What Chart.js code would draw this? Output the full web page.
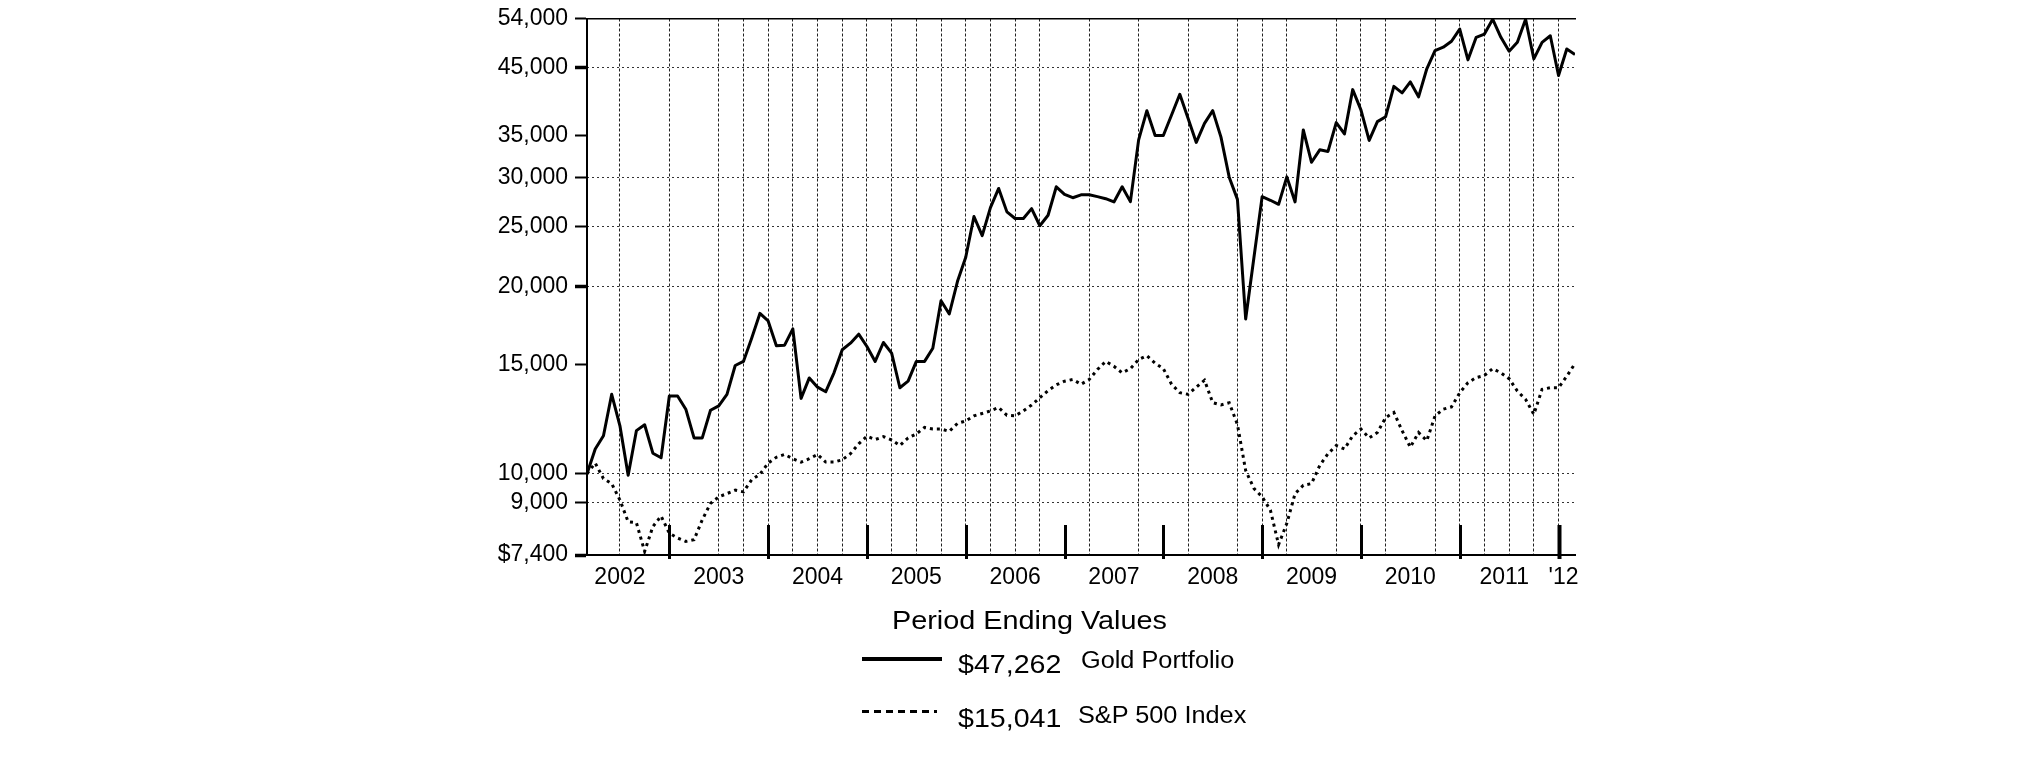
<!DOCTYPE html>
<html>
<head>
<meta charset="utf-8">
<script src="https://cdn.jsdelivr.net/npm/chart.js@4.4.1/dist/chart.umd.min.js"></script>
<style>
  html, body { margin: 0; background: #fff; }
  body { width: 2025px; height: 761px; position: relative; overflow: hidden;
         font-family: 'Liberation Sans', Arial, sans-serif; color: #000; }
  #chart { position: absolute; left: 0; top: 0; }
  .lg { position: absolute; white-space: nowrap; line-height: 1; transform-origin: left center; }
  .sample-solid { position: absolute; left: 862px; top: 657px; width: 80px; height: 4px; background: #000; }
  .sample-dash { position: absolute; left: 862px; top: 710px; width: 75px; height: 3px;
                 background: repeating-linear-gradient(to right, #000 0 7px, transparent 7px 12px); }
</style>
</head>
<body>
<canvas id="chart" width="2025" height="761"></canvas>

<div class="lg" style="left:892px; top:607px; font-size:26px; transform:scaleX(1.108);">Period Ending Values</div>
<div class="sample-solid"></div>
<div class="lg" style="left:958px; top:651px; font-size:26px; transform:scaleX(1.1);">$47,262</div>
<div class="lg" style="left:1081px; top:649px; font-size:23px; transform:scaleX(1.1);">Gold Portfolio</div>
<div class="sample-dash"></div>
<div class="lg" style="left:958px; top:705px; font-size:26px; transform:scaleX(1.1);">$15,041</div>
<div class="lg" style="left:1078px; top:704px; font-size:23px; transform:scaleX(1.1);">S&amp;P 500 Index</div>

<script>
// Valores mensuales, índice 0 = fin de feb 2002 ... índice 120 = fin de feb 2012
const goldValues = [
  10000, 10960, 11510, 13420, 11940, 9940, 11730, 11990, 10790, 10610,
  13340, 13340, 12700, 11420, 11420, 12650, 12860, 13420, 14930, 15160,
  16520, 18110, 17610, 16070, 16100, 17100, 13220, 14260, 13780, 13550,
  14530, 15830, 16220, 16770, 16020, 15160, 16260, 15630, 13750, 14090,
  15160, 15160, 15920, 18980, 18070, 20400, 22300, 25930, 24160, 26800,
  28770, 26380, 25740, 25740, 26700, 25060, 26050, 28950, 28150, 27800,
  28100, 28100, 27910, 27700, 27370, 28950, 27400, 34440, 38380, 35000,
  35000, 37760, 40780, 37310, 34120, 36620, 38380, 34800, 30000, 27630,
  17740, 22260, 27910, 27540, 27130, 30030, 27370, 35730, 31700, 33200,
  33000, 36720, 35210, 41490, 38500, 34370, 36850, 37530, 42000, 41000,
  42690, 40400, 44820, 47940, 48550, 49630, 51920, 46330, 50360, 50970,
  53860, 50360, 47840, 49440, 53860, 46500, 49440, 50660, 43730, 48240,
  47262
];

const spValues = [
  10000, 10400, 9820, 9640, 9070, 8370, 8340, 7500, 8220, 8550,
  8020, 7880, 7780, 7830, 8430, 8960, 9180, 9290, 9410, 9350,
  9780, 9980, 10400, 10630, 10740, 10570, 10440, 10570, 10740, 10440,
  10440, 10530, 10770, 11170, 11490, 11350, 11470, 11330, 11100, 11420,
  11590, 11870, 11800, 11800, 11700, 12050, 12160, 12390, 12500, 12620,
  12780, 12420, 12390, 12620, 12900, 13250, 13610, 13900, 14090, 14180,
  13930, 14180, 14710, 15160, 14890, 14530, 14760, 15260, 15480, 15060,
  14760, 13930, 13500, 13420, 13780, 14140, 13010, 12900, 13010, 12000,
  10120, 9470, 9180, 8740, 7690, 8320, 9290, 9580, 9640, 10310,
  10770, 11100, 10960, 11510, 11800, 11420, 11650, 12310, 12550, 11730,
  11030, 11650, 11300, 12390, 12700, 12810, 13500, 14010, 14280, 14390,
  14760, 14530, 14220, 13580, 13170, 12460, 13670, 13750, 13750, 14350,
  15041
];

// Eje Y (logarítmico): etiquetas y, aparte, las líneas punteadas
const yTicks = [7400, 9000, 10000, 15000, 20000, 25000, 30000, 35000, 45000, 54000];
const yGridValues = [9000, 10000, 20000, 25000, 30000, 45000];
const yThickTicks = [7400, 20000, 45000];

// Eje X (meses desde feb 2002)
const xGridMonths = [4, 10, 16, 19, 22, 25, 28, 31, 34, 37, 40, 43, 46, 49, 52, 55, 61, 67,
  73, 79, 82, 85, 91, 94, 97, 103, 106, 109, 112, 115, 118];
const yearEndMonths = [10, 22, 34, 46, 58, 70, 82, 94, 106, 118];
const yearLabelMonths = [4, 16, 28, 40, 52, 64, 76, 88, 100, 111.4, 118.6];
const yearLabels = ['2002', '2003', '2004', '2005', '2006', '2007', '2008', '2009', '2010', '2011', "'12"];

const FONT = "'Liberation Sans', Arial, sans-serif";

// marcas gruesas de fin de año sobre el eje inferior
const yearTicksPlugin = {
  id: 'yearTicks',
  afterDatasetsDraw(chart) {
    const { ctx, chartArea, scales: { x } } = chart;
    ctx.save();
    ctx.strokeStyle = '#000';
    yearEndMonths.forEach((m, i) => {
      const px = Math.round(x.getPixelForValue(m)) + 0.5;
      ctx.lineWidth = i === yearEndMonths.length - 1 ? 4 : 3;
      ctx.beginPath();
      ctx.moveTo(px, chartArea.bottom - 30);
      ctx.lineTo(px, chartArea.bottom + 4);
      ctx.stroke();
    });
    ctx.restore();
  }
};

const hiddenTicks = { display: false };

new Chart(document.getElementById('chart'), {
  type: 'line',
  data: {
    datasets: [
      {
        label: 'Gold Portfolio',
        data: goldValues.map((v, i) => ({ x: i, y: v })),
        borderColor: '#000',
        borderWidth: 3,
        borderJoinStyle: 'round',
        pointRadius: 0,
        tension: 0
      },
      {
        label: 'S&P 500 Index',
        data: spValues.map((v, i) => ({ x: i, y: v })),
        borderColor: '#000',
        borderWidth: 3,
        borderDash: [3, 4],
        pointRadius: 0,
        tension: 0
      }
    ]
  },
  options: {
    responsive: false,
    devicePixelRatio: 1,
    animation: false,
    layout: { padding: { left: 0, right: 450, top: 14, bottom: 156 } },
    plugins: { legend: { display: false }, tooltip: { enabled: false } },
    scales: {
      // rejilla vertical punteada + eje inferior
      x: {
        type: 'linear',
        position: 'bottom',
        weight: 0,
        min: 0,
        max: 120,
        afterBuildTicks: s => { s.ticks = xGridMonths.map(v => ({ value: v })); },
        afterFit: s => { s.height = 0; },
        grid: { color: '#222', lineWidth: 1, drawTicks: false },
        border: { display: true, color: '#000', width: 2, dash: [3, 2] },
        ticks: hiddenTicks
      },
      // etiquetas de los años
      xLabels: {
        type: 'linear',
        position: 'bottom',
        weight: 1,
        min: 0,
        max: 120,
        afterBuildTicks: s => { s.ticks = yearLabelMonths.map(v => ({ value: v })); },
        afterFit: s => { s.height = 50; },
        grid: { display: false, drawTicks: false },
        border: { display: false },
        ticks: {
          autoSkip: false,
          maxRotation: 0,
          minRotation: 0,
          padding: 9,
          color: '#000',
          font: { family: FONT, size: 23 },
          callback: v => yearLabels[yearLabelMonths.indexOf(v)]
        }
      },
      xTop: {
        type: 'linear',
        position: 'top',
        min: 0,
        max: 120,
        afterFit: s => { s.height = 0; },
        grid: { display: false, drawTicks: false },
        border: { display: true, color: '#000', width: 1.5 },
        ticks: hiddenTicks
      },
      y: {
        type: 'logarithmic',
        position: 'left',
        weight: 1,
        min: 7400,
        max: 54000,
        afterBuildTicks: s => { s.ticks = yTicks.map(v => ({ value: v })); },
        afterFit: s => { s.width = 587; },
        grid: {
          drawOnChartArea: false,
          tickLength: 12,
          tickColor: '#000',
          tickWidth: c => yThickTicks.includes(c.tick && c.tick.value) ? 3.5 : 2
        },
        border: { display: true, color: '#000', width: 2 },
        ticks: {
          autoSkip: false,
          padding: 7,
          color: '#000',
          font: { family: FONT, size: 23, lineHeight: 1 },
          callback: v => (v === 7400 ? '$' : '') + Number(v).toLocaleString('en-US')
        }
      },
      // rejilla horizontal punteada (solo algunos valores)
      yGrid: {
        type: 'logarithmic',
        position: 'left',
        weight: 0,
        min: 7400,
        max: 54000,
        afterBuildTicks: s => { s.ticks = yGridValues.map(v => ({ value: v })); },
        afterFit: s => { s.width = 0; },
        grid: { color: '#333', lineWidth: 1, drawTicks: false },
        border: { display: false, dash: [2, 3] },
        ticks: hiddenTicks
      }
    }
  },
  plugins: [yearTicksPlugin]
});
</script>
</body>
</html>
